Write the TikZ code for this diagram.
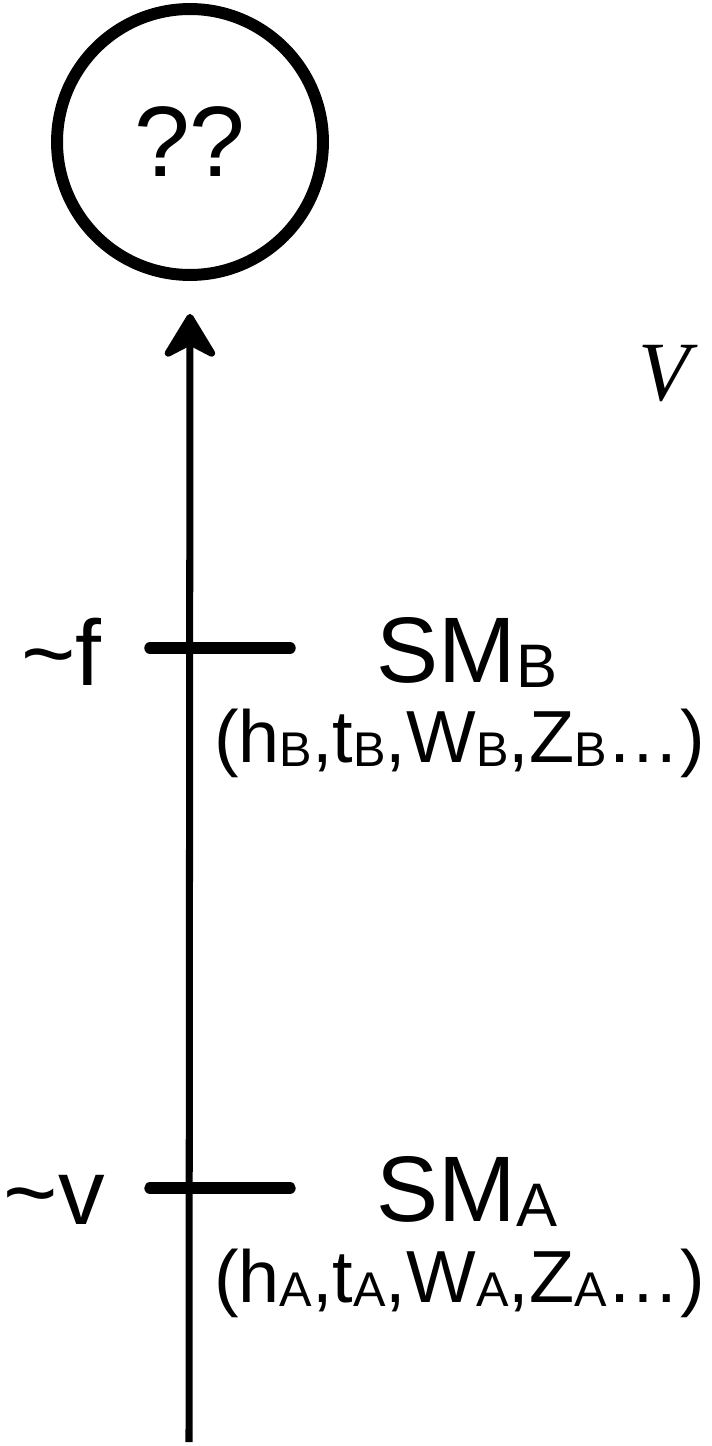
\documentclass[tikz,border=0pt]{standalone}
\usepackage{fontspec}
\usepackage{graphicx}
\setmainfont{Liberation Sans}
\newfontfamily\vfont{Liberation Serif}
\usetikzlibrary{arrows.meta,positioning}
\newcommand{\lowsub}[1]{\raisebox{-0.06em}{\scalebox{0.66}{#1}}}

\begin{document}
\begin{tikzpicture}[x=0.02cm, y=-0.02cm,
  bubble/.style={draw, circle, line width=6.8pt, minimum size=5.32cm, inner sep=0pt,
                 font=\fontsize{57}{60}\selectfont},
  mainline/.style={line width=4pt, -{Stealth[length=29pt, width=35pt, inset=9pt, round]}},
  rung/.style={line width=6.5pt, line cap=round},
  big/.style={font=\fontsize{53}{57}\selectfont, inner sep=0pt},
  small/.style={font=\fontsize{42}{46}\selectfont, inner sep=0pt, anchor=base west},
]
\useasboundingbox (0,0) rectangle (712,1446);
% Nodes
\node[bubble] (q) at (190,142) {??};
\coordinate (base) at (189,1442);
\node[font=\vfont\itshape\fontsize{48}{52}\selectfont, inner sep=0pt] (v) at (664,374) {V};
% upper scale
\coordinate (bl) at (150,648);
\coordinate (br) at (290,648);
\node[big, anchor=base east] (fB) at (102,685) {\textasciitilde f};
\node[big, anchor=base west] (smB) at (376,682) {SM\lowsub{B}};
\node[small] (parB) at (214,762) {(h\lowsub{B},t\lowsub{B},W\lowsub{B},Z\lowsub{B}…)};
% lower scale
\coordinate (al) at (150,1188);
\coordinate (ar) at (290,1188);
\node[big, anchor=base east] (vA) at (105,1224) {\textasciitilde v};
\node[big, anchor=base west] (smA) at (376,1221) {SM\lowsub{A}};
\node[small] (parA) at (214,1302) {(h\lowsub{A},t\lowsub{A},W\lowsub{A},Z\lowsub{A}…)};
% Arrows
\draw[mainline, shorten >=0.66cm] (base) -- (q.south);
\draw[rung] (bl) -- (br);
\draw[rung] (al) -- (ar);
\end{tikzpicture}
\end{document}
